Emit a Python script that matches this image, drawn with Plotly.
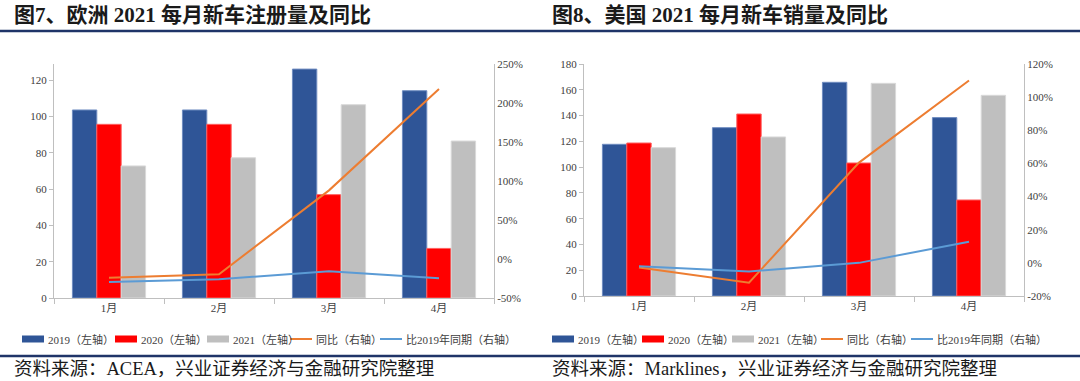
import plotly.graph_objects as go

months = ["1月", "2月", "3月", "4月"]

# Europe (left chart)
eu_2019 = [103.5, 103.5, 126.0, 114.1]
eu_2020 = [95.6, 95.6, 56.9, 27.3]
eu_2021 = [72.7, 77.2, 106.4, 86.4]
eu_yoy = [-24.0, -19.5, 88.0, 218.0]
eu_vs2019 = [-29.6, -26.0, -15.8, -24.8]

# USA (right chart)
us_2019 = [117.7, 130.6, 165.8, 138.4]
us_2020 = [118.7, 141.2, 103.2, 74.5]
us_2021 = [115.1, 123.4, 165.0, 155.7]
us_yoy = [-2.8, -12.0, 60.5, 110.0]
us_vs2019 = [-2.0, -5.2, 0.0, 12.8]

left_ticks_eu = [0, 20, 40, 60, 80, 100, 120]
right_ticks_eu = [-50, 0, 50, 100, 150, 200, 250]
left_ticks_us = [0, 20, 40, 60, 80, 100, 120, 140, 160, 180]
right_ticks_us = [-20, 0, 20, 40, 60, 80, 100, 120]

series_names = ["2019（左轴）", "2020（左轴）", "2021（左轴）", "同比（右轴）", "比2019年同期（右轴）"]

BLUE = "#2F5597"
RED = "#FF0000"
GRAY = "#BFBFBF"
ORANGE = "#ED7D31"
LBLUE = "#5B9BD5"
NAVY = "#1F3468"
FONT = "Liberation Serif, Noto Sans CJK SC, serif"
colors = [BLUE, RED, GRAY, ORANGE, LBLUE]
edge = ["#6F8CC0", "#FF6060", "#D9D9D9"]

W, H = 1080, 381

fig = go.Figure()


def add_chart(xa, ya, ya2, v19, v20, v21, yoy, vs19):
    for vals, i in ((v19, 0), (v20, 1), (v21, 2)):
        fig.add_trace(go.Bar(x=months, y=vals, name=series_names[i],
                             marker=dict(color=colors[i], line=dict(color=edge[i], width=1)),
                             xaxis=xa, yaxis=ya, showlegend=False))
    for vals, i in ((yoy, 3), (vs19, 4)):
        fig.add_trace(go.Scatter(x=months, y=vals, name=series_names[i], mode="lines",
                                 line=dict(color=colors[i], width=2),
                                 xaxis=xa, yaxis=ya2, showlegend=False))


add_chart("x", "y", "y2", eu_2019, eu_2020, eu_2021, eu_yoy, eu_vs2019)
add_chart("x2", "y3", "y4", us_2019, us_2020, us_2021, us_yoy, us_vs2019)

tickfont = dict(family=FONT, size=11, color="#404040")
axline = dict(showline=True, linecolor="#BFBFBF", linewidth=1, showgrid=False, zeroline=False, tickfont=tickfont)


def px_x(p):
    return p / W


def px_y(p):
    return 1 - p / H


l_dom_x = [px_x(54), px_x(494)]
l_dom_y = [px_y(298), px_y(64)]
l_max = 120 * (298 - 64) / (298 - 80)
r_dom_x = [px_x(584), px_x(1024)]
r_dom_y = [px_y(296), px_y(64)]

pct = lambda v: [f"{t}%" for t in v]

fig.update_layout(
    width=W, height=H,
    margin=dict(l=0, r=0, t=0, b=0, autoexpand=False),
    paper_bgcolor="white", plot_bgcolor="white",
    barmode="group", bargap=0.335, bargroupgap=0,
    font=dict(family=FONT, size=11, color="#404040"),
    showlegend=False,
    xaxis=dict(domain=l_dom_x, anchor="y", type="category", ticks="outside", tickson="boundaries",
               ticklen=5, tickcolor="#BFBFBF", **axline),
    yaxis=dict(domain=l_dom_y, anchor="x", range=[0, l_max], tickvals=left_ticks_eu, ticks="outside",
               ticklen=4, tickcolor="#BFBFBF", **axline),
    yaxis2=dict(overlaying="y", side="right", anchor="x", range=[-50, 250], tickvals=right_ticks_eu,
                ticktext=pct(right_ticks_eu), ticks="", **axline),
    xaxis2=dict(domain=r_dom_x, anchor="y3", type="category", ticks="outside", tickson="boundaries",
                ticklen=5, tickcolor="#BFBFBF", **axline),
    yaxis3=dict(domain=r_dom_y, anchor="x2", range=[0, 180], tickvals=left_ticks_us, ticks="outside",
                ticklen=4, tickcolor="#BFBFBF", **axline),
    yaxis4=dict(overlaying="y3", side="right", anchor="x2", range=[-20, 120], tickvals=right_ticks_us,
                ticktext=pct(right_ticks_us), ticks="", **axline),
)

# manual legends (swatch x-start positions in px)
legend_left = [22, 115, 207, 290, 380]
legend_right = [552, 642, 732, 821, 911]
LEG_Y = 339
for starts in (legend_left, legend_right):
    for i, x0 in enumerate(starts):
        if i < 3:
            fig.add_shape(type="rect", xref="paper", yref="paper",
                          x0=px_x(x0), x1=px_x(x0 + 22), y0=px_y(LEG_Y + 3.5), y1=px_y(LEG_Y - 3.5),
                          fillcolor=colors[i], line=dict(width=0))
        else:
            fig.add_shape(type="line", xref="paper", yref="paper",
                          x0=px_x(x0), x1=px_x(x0 + 22), y0=px_y(LEG_Y), y1=px_y(LEG_Y),
                          line=dict(color=colors[i], width=2))
        fig.add_annotation(text=series_names[i], x=px_x(x0 + 24), y=px_y(LEG_Y), xref="paper", yref="paper",
                           xanchor="left", yanchor="middle", showarrow=False,
                           font=dict(family=FONT, size=11, color="#404040"))

# titles
fig.add_annotation(text="<b>图7、欧洲 2021 每月新车注册量及同比</b>", x=px_x(12), y=px_y(15), xref="paper", yref="paper",
                   xanchor="left", yanchor="middle", showarrow=False,
                   font=dict(family=FONT, size=21, color="#1a1a1a"))
fig.add_annotation(text="<b>图8、美国 2021 每月新车销量及同比</b>", x=px_x(550), y=px_y(15), xref="paper", yref="paper",
                   xanchor="left", yanchor="middle", showarrow=False,
                   font=dict(family=FONT, size=21, color="#1a1a1a"))
# sources
fig.add_annotation(text="资料来源：ACEA，兴业证券经济与金融研究院整理", x=px_x(12), y=px_y(369), xref="paper", yref="paper",
                   xanchor="left", yanchor="middle", showarrow=False,
                   font=dict(family=FONT, size=18.5, color="#1a1a1a"))
fig.add_annotation(text="资料来源：Marklines，兴业证券经济与金融研究院整理", x=px_x(550), y=px_y(369), xref="paper", yref="paper",
                   xanchor="left", yanchor="middle", showarrow=False,
                   font=dict(family=FONT, size=18.5, color="#1a1a1a"))

# separator lines
for yy in (31, 356):
    fig.add_shape(type="line", xref="paper", yref="paper", x0=0, x1=1, y0=px_y(yy), y1=px_y(yy),
                  line=dict(color=NAVY, width=2.5))

fig.write_html("out.html", config={"displayModeBar": False},
               post_script="document.body.style.margin='0';document.body.style.overflow='hidden';")
